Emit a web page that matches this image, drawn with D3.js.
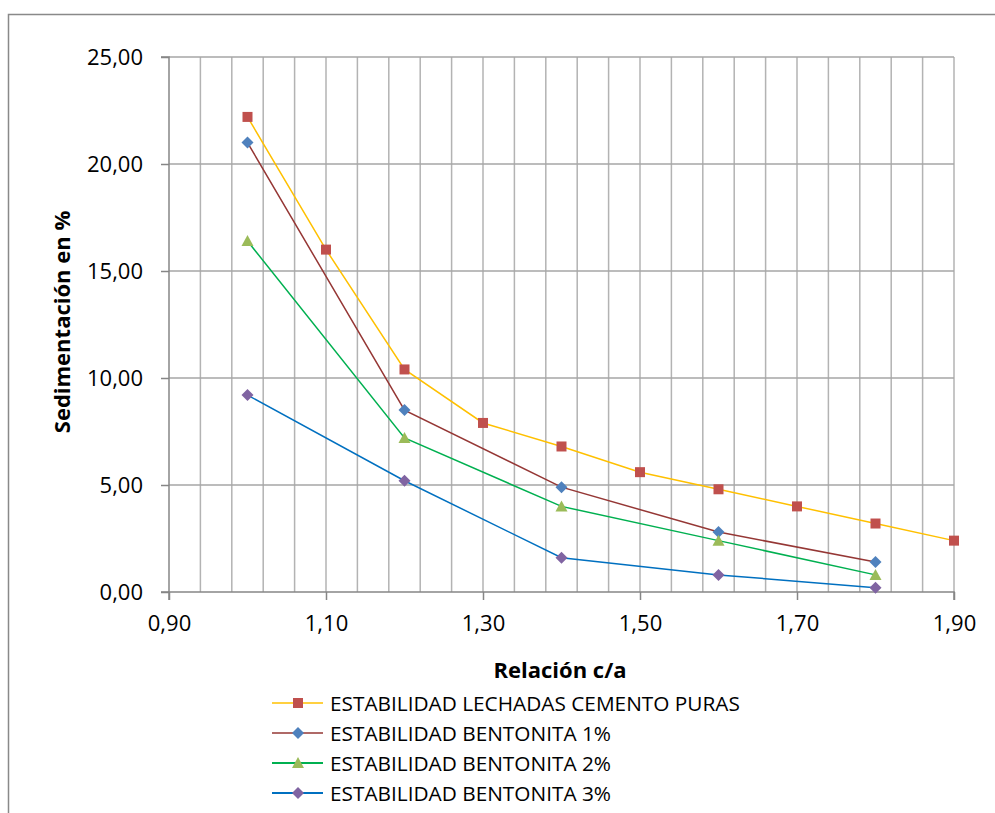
<!DOCTYPE html>
<html>
<head>
<meta charset="utf-8">
<script src="https://cdn.jsdelivr.net/npm/d3@7"></script>
<style>
  body { margin: 0; background: #fff; }
  svg { display: block; }
  text { font-family: "Open Sans", "Noto Sans", sans-serif; fill: #000; }
</style>
</head>
<body>
<svg id="chart" width="995" height="813"></svg>
<script>
// ---- data ----
const xPuras = [1.0, 1.1, 1.2, 1.3, 1.4, 1.5, 1.6, 1.7, 1.8, 1.9];
const yPuras = [22.2, 16.0, 10.4, 7.9, 6.8, 5.6, 4.8, 4.0, 3.2, 2.4];
const xBent = [1.0, 1.2, 1.4, 1.6, 1.8];
const yBent1 = [21.0, 8.5, 4.9, 2.8, 1.4];
const yBent2 = [16.4, 7.2, 4.0, 2.4, 0.8];
const yBent3 = [9.2, 5.2, 1.6, 0.8, 0.2];
const seriesNames = [
  "ESTABILIDAD LECHADAS CEMENTO PURAS",
  "ESTABILIDAD BENTONITA 1%",
  "ESTABILIDAD BENTONITA 2%",
  "ESTABILIDAD BENTONITA 3%"
];
const xTicks = [0.9, 1.1, 1.3, 1.5, 1.7, 1.9];
const yTicks = [0, 5, 10, 15, 20, 25];
const xTitle = "Relación c/a";
const yTitle = "Sedimentación en %";

const series = [
  { name: seriesNames[0], xs: xPuras, ys: yPuras, line: "#FFC000", fill: "#C0504D", shape: "square" },
  { name: seriesNames[1], xs: xBent, ys: yBent1, line: "#953735", fill: "#4F81BD", shape: "diamond" },
  { name: seriesNames[2], xs: xBent, ys: yBent2, line: "#00B050", fill: "#9BBB59", shape: "triangle" },
  { name: seriesNames[3], xs: xBent, ys: yBent3, line: "#0070C0", fill: "#8064A2", shape: "diamond" }
];

const svg = d3.select("#chart");

// outer frame
svg.append("path")
  .attr("d", "M8.5,813 L8.5,14.5 L995,14.5")
  .attr("fill", "none").attr("stroke", "#898989").attr("stroke-width", 1.5);

const L = 169, R = 954, T = 57, B = 592;
const x = d3.scaleLinear().domain([0.9, 1.9]).range([L, R]);
const y = d3.scaleLinear().domain([0, 25]).range([B, T]);

// vertical gridlines every 0.04
const vGrid = d3.range(0, 26).map(i => 0.9 + i * 0.04);
svg.append("g").selectAll("line").data(vGrid.slice(1)).join("line")
  .attr("x1", d => x(d)).attr("x2", d => x(d))
  .attr("y1", T).attr("y2", B)
  .attr("stroke", "#B3B3B3").attr("stroke-width", 1.5);
// horizontal gridlines
svg.append("g").selectAll("line").data(yTicks.slice(1)).join("line")
  .attr("x1", L).attr("x2", R)
  .attr("y1", d => y(d)).attr("y2", d => y(d))
  .attr("stroke", "#A6A6A6").attr("stroke-width", 1.5);

// axes
const yAxis = d3.axisLeft(y).tickValues(yTicks).tickSize(8).tickPadding(18)
  .tickFormat(d => d3.format(".2f")(d).replace(".", ","));
const gy = svg.append("g").attr("transform", `translate(${L},0)`).call(yAxis);
const xAxis = d3.axisBottom(x).tickValues(xTicks).tickSize(8).tickPadding(15)
  .tickFormat(d => d3.format(".2f")(d).replace(".", ","));
const gx = svg.append("g").attr("transform", `translate(0,${B})`).call(xAxis);
[gx, gy].forEach(g => {
  g.select(".domain").attr("stroke", "#868686").attr("stroke-width", 1.5);
  g.selectAll(".tick line").attr("stroke", "#868686").attr("stroke-width", 1.5);
  g.selectAll(".tick text").style("font-family", "'Open Sans', sans-serif").style("font-size", "22px").attr("fill", "#000");
});
gy.select(".domain").attr("d", `M${-8},${T}H0V${B}H-8`);
gx.select(".domain").attr("d", `M${L},8V0H${R}V8`);

// axis titles
svg.append("text").attr("x", 560).attr("y", 678).attr("text-anchor", "middle")
  .style("font-size", "22px").style("font-weight", "bold").text(xTitle);
svg.append("text").attr("transform", "translate(70,322) rotate(-90)").attr("text-anchor", "middle")
  .style("font-size", "22px").style("font-weight", "bold").text(yTitle);

// markers
function marker(g, shape, fill, cx, cy) {
  if (shape === "square") {
    g.append("rect").attr("x", cx - 5).attr("y", cy - 5).attr("width", 10).attr("height", 10).attr("fill", fill);
  } else if (shape === "diamond") {
    g.append("path").attr("d", `M${cx},${cy - 6}L${cx + 6},${cy}L${cx},${cy + 6}L${cx - 6},${cy}Z`).attr("fill", fill);
  } else {
    g.append("path").attr("d", `M${cx},${cy - 6}L${cx + 6},${cy + 5}L${cx - 6},${cy + 5}Z`).attr("fill", fill);
  }
}

const line = d3.line().x(d => x(d[0])).y(d => y(d[1]));
series.forEach(s => {
  const pts = s.xs.map((v, i) => [v, s.ys[i]]);
  svg.append("path").datum(pts).attr("d", line).attr("fill", "none")
    .attr("stroke", s.line).attr("stroke-width", 1.5);
});
series.forEach(s => {
  const g = svg.append("g");
  s.xs.forEach((v, i) => marker(g, s.shape, s.fill, x(v), y(s.ys[i])));
});

// legend
const legY = [703, 733, 763, 793];
series.forEach((s, i) => {
  const g = svg.append("g");
  g.append("line").attr("x1", 272).attr("x2", 323).attr("y1", legY[i]).attr("y2", legY[i])
    .attr("stroke", s.line).attr("stroke-width", i >= 2 ? 2 : 1.5);
  marker(g, s.shape, s.fill, 298, legY[i]);
  g.append("text").attr("x", 330).attr("y", legY[i] + 7.5)
    .style("font-size", "20.8px").text(s.name);
});
</script>
</body>
</html>
